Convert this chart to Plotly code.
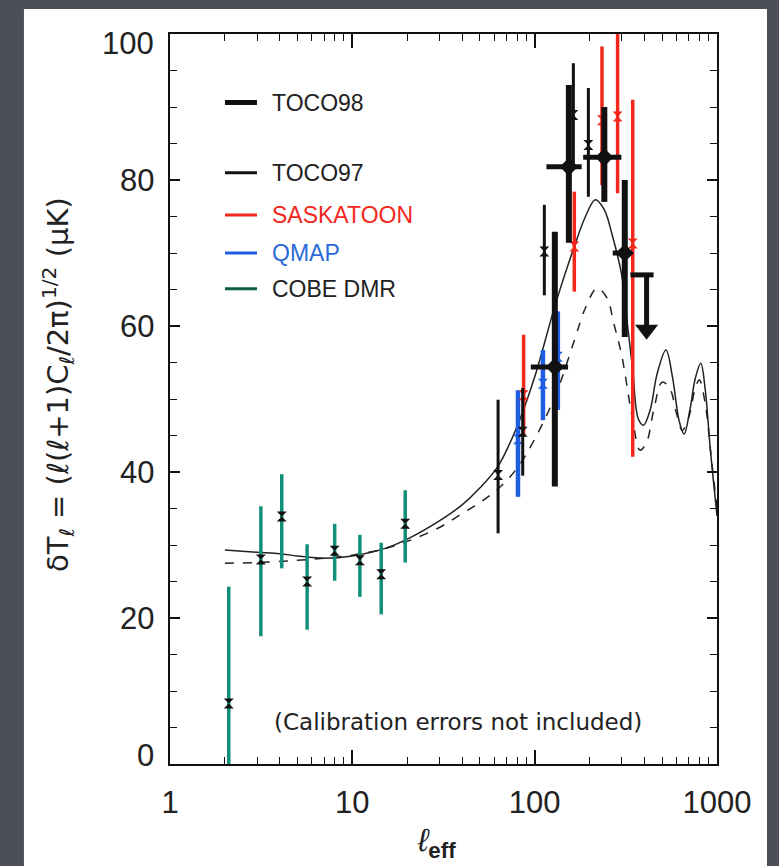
import plotly.graph_objects as go

# ---------------- data ----------------
# COBE DMR
cobe_l = [2.1, 3.15, 4.1, 5.65, 8.0, 11.0, 14.4, 19.5]
cobe_v = [8.3, 28.0, 33.9, 25.0, 29.2, 27.9, 26.0, 32.9]
cobe_up = [16.0, 7.3, 5.8, 5.1, 3.7, 3.5, 4.3, 4.6]
cobe_dn = [16.0, 10.5, 7.1, 6.6, 4.1, 5.0, 5.5, 5.3]

# QMAP
qmap_l = [81, 111, 134]
qmap_v = [44.5, 52.1, 55.8]
qmap_up = [6.7, 4.6, 6.2]
qmap_dn = [7.9, 5.0, 7.3]

# SASKATOON
sask_l = [87, 165, 234, 285, 345]
sask_v = [50.5, 70.9, 88.2, 88.7, 71.3]
sask_up = [8.3, 7.5, 10.1, 13.0, 19.7]
sask_dn = [5.5, 6.2, 8.9, 10.5, 29.2]

# TOCO97
t97_l = [63, 86, 113, 163, 197]
t97_v = [39.6, 45.5, 70.2, 88.9, 84.8]
t97_up = [10.3, 6.0, 6.4, 7.1, 7.8]
t97_dn = [8.0, 6.0, 6.0, 7.0, 7.1]

# TOCO98
t98_l = [129, 154, 241, 312]
t98_v = [54.4, 81.8, 83.1, 70.0]
t98_up = [18.5, 11.2, 6.9, 10.0]
t98_dn = [16.4, 10.4, 6.1, 11.5]
t98_lhi = [23.5, 27.0, 58.0, 24.0]
t98_llo = [33.8, 38.0, 56.5, 44.0]

# TOCO98 upper limit
ul_l = [411]
ul_v = [67.0]
ul_lhi = [38.0]
ul_llo = [76.0]
ul_tip = [59.5]

# model curves
solid_l = [2, 3, 4, 5, 7, 10, 15, 20, 30, 40, 50, 63, 80, 100, 130, 165, 190, 215,
           240, 268, 300, 320, 345, 370, 395, 430, 470, 525, 570, 620, 660, 710, 760,
           815, 860, 920, 1000]
solid_v = [29.3, 29.0, 28.8, 28.5, 28.2, 28.5, 29.5, 30.8, 33.3, 35.5, 37.8, 40.8,
           46.2, 53.0, 63.0, 70.9, 75.0, 77.3, 76.0, 72.2, 67.0, 61.0, 54.0, 47.3,
           46.4, 48.5, 53.5, 56.7, 53.0, 47.0, 45.2, 48.5, 52.8, 54.9, 51.5, 43.0, 34.0]
dash_l = [2, 3, 5, 7, 10, 15, 20, 30, 40, 50, 63, 80, 100, 130, 165, 190, 220, 250,
          270, 300, 345, 378, 410, 450, 500, 550, 600, 645, 700, 760, 800, 860, 930, 1000]
dash_v = [27.5, 27.6, 27.9, 28.2, 28.6, 29.5, 30.5, 32.4, 34.3, 35.8, 37.7, 40.5,
          44.5, 50.5, 58.0, 62.5, 65.2, 63.8, 60.6, 56.0, 47.1, 43.0, 44.0, 48.5,
          52.3, 51.5, 48.0, 45.7, 47.5, 51.5, 52.6, 49.5, 42.0, 35.0]

# legend
legend_names = ["TOCO98", "TOCO97", "SASKATOON", "QMAP", "COBE DMR"]
legend_line_colors = ["#111111", "#111111", "#f2281c", "#1f5ee0", "#0b5e3e"]
legend_text_colors = ["#222222", "#222222", "#f2281c", "#2a6ad8", "#222222"]
legend_line_widths = [5, 3, 3, 3, 3]
legend_y = [0.906, 0.810, 0.752, 0.700, 0.651]

x_ticks = [1, 10, 100, 1000]
x_ticktext = ["1", "10", "100", "1000"]
x_minor = [m * d for d in (1, 10, 100) for m in range(2, 10)]
y_ticks = [0, 20, 40, 60, 80, 100]
y_ticktext = ["0", "20", "40", "60", "80", "100"]
y_label_shift = [9, 0, 0, 0, 0, -9]   # end labels sit inside the axis range

RED = "#f2281c"
BLUE = "#1f5ee0"
GREEN = "#109078"
BLACK = "#111111"
FONT = "Liberation Sans"
WFONT = "DejaVu Sans"

fig = go.Figure()

# model curves
fig.add_trace(go.Scatter(x=dash_l, y=dash_v, mode="lines",
                         line=dict(color="#222222", width=1.5, dash="dash", shape="spline"),
                         showlegend=False))
fig.add_trace(go.Scatter(x=solid_l, y=solid_v, mode="lines",
                         line=dict(color="#222222", width=1.5, shape="spline"),
                         showlegend=False))


def err_trace(xs, ys, up, dn, color, thick, msym, mcolor, msize):
    return go.Scatter(
        x=xs, y=ys, mode="markers",
        marker=dict(symbol=msym, color=mcolor, size=msize, line=dict(width=0)),
        error_y=dict(type="data", symmetric=False, array=up, arrayminus=dn,
                     color=color, thickness=thick, width=0),
        showlegend=False)


fig.add_trace(err_trace(cobe_l, cobe_v, cobe_up, cobe_dn, GREEN, 3.5, "hourglass", BLACK, 10))
fig.add_trace(err_trace(qmap_l, qmap_v, qmap_up, qmap_dn, BLUE, 4.5, "hourglass", BLUE, 10))
fig.add_trace(err_trace(sask_l, sask_v, sask_up, sask_dn, RED, 3.5, "hourglass", RED, 10))
fig.add_trace(err_trace(t97_l, t97_v, t97_up, t97_dn, BLACK, 3, "hourglass", BLACK, 10))

# TOCO98 with horizontal bars
fig.add_trace(go.Scatter(
    x=t98_l, y=t98_v, mode="markers",
    marker=dict(symbol="diamond", color=BLACK, size=14),
    error_y=dict(type="data", symmetric=False, array=t98_up, arrayminus=t98_dn,
                 color=BLACK, thickness=6, width=0),
    error_x=dict(type="data", symmetric=False, array=t98_lhi, arrayminus=t98_llo,
                 color=BLACK, thickness=5, width=0),
    showlegend=False))

# TOCO98 upper limit
fig.add_trace(go.Scatter(
    x=ul_l, y=ul_v, mode="markers",
    marker=dict(size=1, color=BLACK),
    error_x=dict(type="data", symmetric=False, array=ul_lhi, arrayminus=ul_llo,
                 color=BLACK, thickness=5, width=0),
    error_y=dict(type="data", symmetric=False, array=[0], arrayminus=[ul_v[0] - ul_tip[0]],
                 color=BLACK, thickness=5, width=0),
    showlegend=False))
fig.add_trace(go.Scatter(
    x=ul_l, y=ul_tip, mode="markers",
    marker=dict(symbol="triangle-down", size=20, color=BLACK),
    showlegend=False))

shapes = [dict(type="rect", xref="paper", yref="paper", x0=-0.267, x1=1.0914,
               y0=-0.25, y1=1.0342, fillcolor="white", line=dict(width=0), layer="below")]
annotations = []
for name, lc, tc, lw, yy in zip(legend_names, legend_line_colors, legend_text_colors,
                                legend_line_widths, legend_y):
    shapes.append(dict(type="line", xref="paper", yref="paper", x0=0.1005, x1=0.159,
                       y0=yy, y1=yy, line=dict(color=lc, width=lw)))
    annotations.append(dict(xref="paper", yref="paper", x=0.183, y=yy, text=name,
                            showarrow=False, xanchor="left", yanchor="middle",
                            font=dict(family=FONT, size=23, color=tc)))

# y tick labels (as text so the end labels can sit inside the frame)
for v, t, s in zip(y_ticks, y_ticktext, y_label_shift):
    annotations.append(dict(xref="paper", yref="y", x=-0.026, y=v, text=t,
                            showarrow=False, xanchor="right", yanchor="middle", yshift=s,
                            font=dict(family=FONT, size=31, color="#222222")))

annotations.append(dict(xref="paper", yref="paper", x=0.1865, y=0.0575,
                        text="(Calibration errors not included)", showarrow=False,
                        xanchor="left", yanchor="middle",
                        font=dict(family=WFONT, size=23, color="#222222")))
annotations.append(dict(xref="paper", yref="paper", x=-0.2048, y=0.5205,
                        text="δT<sub>ℓ</sub> = (ℓ(ℓ+1)C<sub>ℓ</sub>/2π)<sup>1/2</sup> (μK)",
                        textangle=-90, showarrow=False, xanchor="center", yanchor="middle",
                        font=dict(family=WFONT, size=29, color="#222222")))
annotations.append(dict(xref="paper", yref="paper", x=0.488, y=-0.107,
                        text="<i>ℓ</i><sub><b>eff</b></sub>", showarrow=False,
                        xanchor="center", yanchor="middle",
                        font=dict(family=FONT, size=32, color="#222222")))

fig.update_layout(
    width=779, height=866,
    margin=dict(l=170, r=62, t=34, b=102),
    paper_bgcolor="#4b5058",
    plot_bgcolor="white",
    shapes=shapes,
    annotations=annotations,
    font=dict(family=FONT, color="#222222"),
    showlegend=False,
)
fig.update_xaxes(
    type="log", range=[0, 3], tickvals=x_ticks, ticktext=x_ticktext,
    ticks="inside", ticklen=14, tickwidth=1.5, tickcolor=BLACK,
    minor=dict(ticks="inside", ticklen=7, tickwidth=1.2, tickcolor=BLACK,
               tickvals=x_minor, showgrid=False),
    showline=True, linecolor=BLACK, linewidth=2, mirror="ticks",
    showgrid=False, zeroline=False,
    tickfont=dict(family=FONT, size=31, color="#222222"), ticklabelstandoff=10,
)
fig.update_yaxes(
    range=[0, 100], tickvals=y_ticks, showticklabels=False,
    ticks="inside", ticklen=10, tickwidth=1.5, tickcolor=BLACK,
    minor=dict(ticks="inside", ticklen=7, tickwidth=1.2, tickcolor=BLACK, dtick=5, showgrid=False),
    showline=True, linecolor=BLACK, linewidth=2, mirror="ticks",
    showgrid=False, zeroline=False,
)

fig.write_html("out.html")
